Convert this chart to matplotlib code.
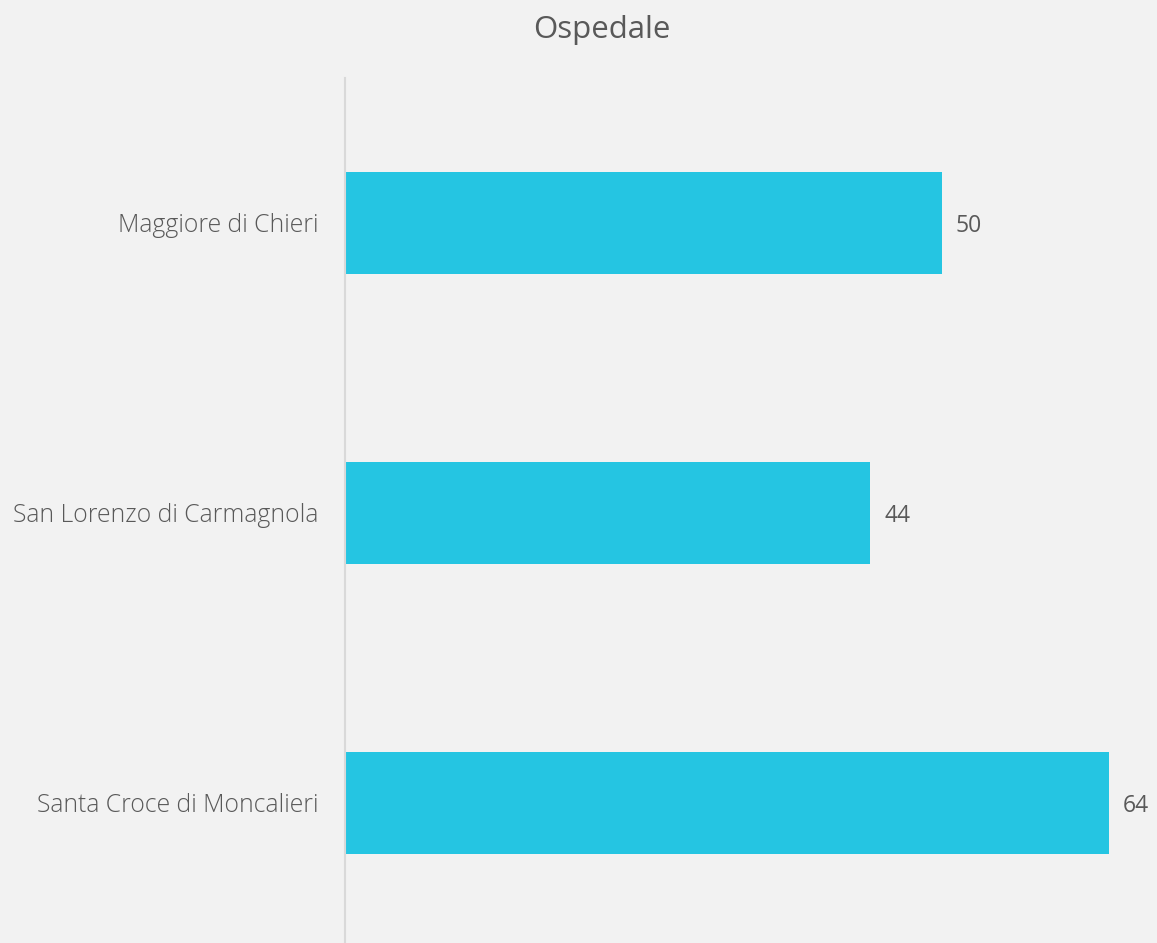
import matplotlib
matplotlib.use('Agg')
import matplotlib.pyplot as plt

# data
hospitals = ['Maggiore di Chieri', 'San Lorenzo di Carmagnola', 'Santa Croce di Moncalieri']
counts = [50, 44, 64]

plt.rcParams['font.family'] = ['Open Sans', 'DejaVu Sans']

bg = '#f2f2f2'
txt = '#595959'

fig = plt.figure(figsize=(11.57, 9.43), dpi=100, facecolor=bg)
ax = fig.add_axes([345 / 1157, -5 / 943, 812 / 1157, 870 / 943], facecolor=bg)

y = range(len(hospitals))
ax.barh(y, counts, height=0.352, color='#25c5e2')
for yi, v in zip(y, counts):
    ax.annotate(str(v), xy=(v, yi), xytext=(10, 0), textcoords='offset points',
                va='center_baseline', ha='left', fontsize=16.5, color=txt)

ax.set_xlim(0, 68)
ax.set_ylim(len(hospitals) - 0.5, -0.5)
ax.set_yticks(list(y))
ax.set_yticklabels(hospitals, fontsize=17.8, color=txt, fontweight='light')
ax.tick_params(axis='y', length=0, pad=19)
ax.set_xticks([])
for s in ['top', 'right', 'bottom']:
    ax.spines[s].set_visible(False)
ax.spines['left'].set_color('#d9d9d9')
ax.spines['left'].set_linewidth(1.5)

fig.text(602 / 1157, 1 - 30 / 943, 'Ospedale', ha='center', va='center', fontsize=22.5, color=txt)

fig.savefig('out.png', dpi=100, facecolor=bg)
